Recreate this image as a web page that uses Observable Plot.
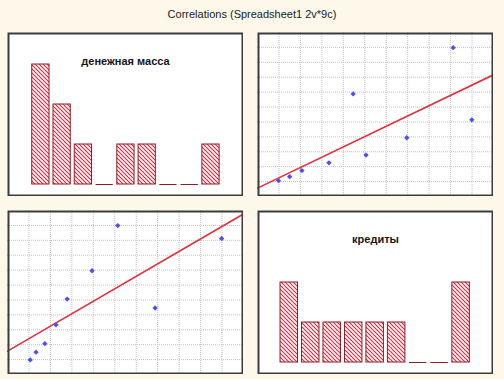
<!DOCTYPE html>
<html><head><meta charset="utf-8">
<script src="https://cdn.jsdelivr.net/npm/d3@7"></script>
<script src="https://cdn.jsdelivr.net/npm/@observablehq/plot@0.6"></script>
<style>
html,body{margin:0;padding:0;background:#fdf8ea;}
#wrap{position:relative;width:504px;height:379px;overflow:hidden;background:#fdf8ea;font-family:"Liberation Sans",Arial,sans-serif;}
#title{position:absolute;left:0;top:8px;width:504px;text-align:center;font-size:11px;line-height:13px;color:#1a1a1a;}
.panel{position:absolute;}
.panel svg{display:block;}
</style></head><body>
<div id="wrap"><div id="title">Correlations (Spreadsheet1 2v*9c)</div></div>
<script>
// variables and the 9 cases (arbitrary units)
const variables = ["денежная масса", "кредиты"];
const money  = [10.6, 13.3, 17.4, 22.6, 27.8, 39.4, 51.4, 68.8, 99.8];
const credit = [9.8, 15.0, 20.7, 33.3, 50.6, 69.6, 99.9, 44.6, 91.2];
// histogram counts (9 bins each)
const moneyCounts  = [3, 2, 1, 0, 1, 1, 0, 0, 1];
const creditCounts = [2, 1, 1, 1, 1, 1, 0, 0, 2];
// grid tick values
const gridTicks = [10, 20, 30, 40, 50, 60, 70, 80, 90, 100];
const axisDomain = [0, 110];
const countDomain = [-0.3, 3.8];

const W = 236, H = 164;
const font = {fontFamily: "'Liberation Sans', Arial, sans-serif", background: "transparent"};
const SVGNS = "http://www.w3.org/2000/svg";

function addHatch(svg, id) {
  const defs = document.createElementNS(SVGNS, "defs");
  defs.innerHTML = `<pattern id="${id}" patternUnits="userSpaceOnUse" width="4" height="4">
      <rect width="4" height="4" fill="#ffffff"/>
      <path d="M-1,-1L5,5M-1,3L1,5M3,-1L5,1" stroke="#d02a3e" stroke-width="1.1" fill="none"/>
    </pattern>`;
  svg.insertBefore(defs, svg.firstChild);
}

function histogram(values, counts, label, id) {
  const [lo, hi] = d3.extent(values);
  const w = (hi - lo) / counts.length;
  const bins = counts.map((c, i) => ({x1: lo + i * w, x2: lo + (i + 1) * w, count: c}));
  const svg = Plot.plot({
    width: W, height: H, margin: 0, style: font,
    x: {domain: axisDomain, axis: null},
    y: {domain: countDomain, axis: null},
    marks: [
      Plot.frame({fill: "white"}),
      Plot.rect(bins.filter(d => d.count > 0), {x1: "x1", x2: "x2", y1: 0, y2: "count",
        fill: `url(#${id})`, stroke: "#8e1b25", strokeWidth: 1, insetLeft: 2, insetRight: 2}),
      Plot.ruleY(bins.filter(d => d.count === 0), {x1: "x1", x2: "x2", y: 0,
        stroke: "#8e1b25", strokeWidth: 1, insetLeft: 2, insetRight: 2}),
      Plot.text([label], {frameAnchor: "top", dy: 25, fontSize: 11, fontWeight: "bold", fill: "#151515"}),
      Plot.frame({stroke: "#3c3c3c", strokeWidth: 2, inset: 1})
    ]
  });
  addHatch(svg, id);
  return svg;
}

function scatter(xs, ys) {
  const mx = d3.mean(xs), my = d3.mean(ys);
  const slope = d3.sum(xs, (x, i) => (x - mx) * (ys[i] - my)) / d3.sum(xs, x => (x - mx) ** 2);
  const icpt = my - slope * mx;
  const pts = xs.map((x, i) => ({x, y: ys[i]}));
  const fit = axisDomain.map(x => ({x, y: icpt + slope * x}));
  return Plot.plot({
    width: W, height: H, margin: 0, style: font,
    x: {domain: axisDomain, axis: null},
    y: {domain: axisDomain, axis: null},
    marks: [
      Plot.frame({fill: "white"}),
      Plot.ruleX(gridTicks, {stroke: "#c2c2c2", strokeDasharray: "1,1"}),
      Plot.ruleY(gridTicks, {stroke: "#c2c2c2", strokeDasharray: "1,1"}),
      Plot.line(fit, {x: "x", y: "y", stroke: "#e2303c", strokeWidth: 1.6, clip: true}),
      Plot.dot(pts, {x: "x", y: "y", symbol: "diamond2", r: 2.4, fill: "#5050e6", stroke: "none"}),
      Plot.frame({stroke: "#3c3c3c", strokeWidth: 2, inset: 1})
    ]
  });
}

const wrap = document.getElementById("wrap");
function place(node, left, top) {
  const d = document.createElement("div");
  d.className = "panel";
  d.style.left = left + "px";
  d.style.top = top + "px";
  d.appendChild(node);
  wrap.appendChild(d);
}
place(histogram(money, moneyCounts, variables[0], "hatchM"), 7, 32);
place(scatter(credit, money), 257, 32);
place(scatter(money, credit), 7, 210);
place(histogram(credit, creditCounts, variables[1], "hatchK"), 257, 210);
</script>
</body></html>
